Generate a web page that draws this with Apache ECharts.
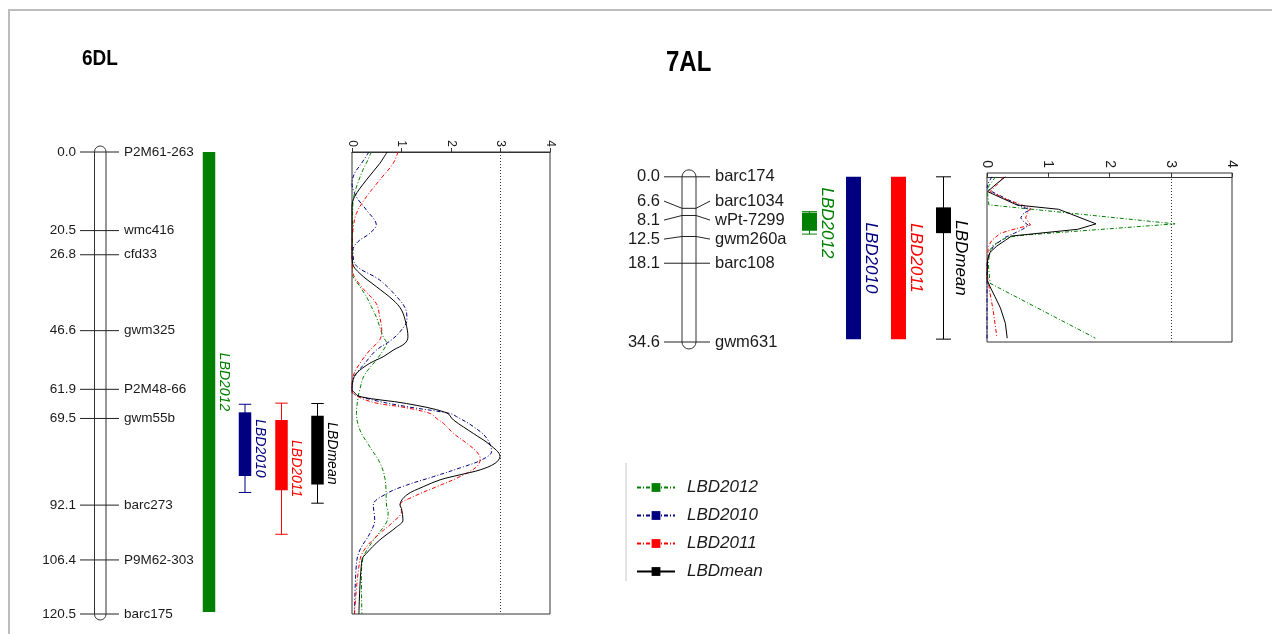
<!DOCTYPE html>
<html><head><meta charset="utf-8">
<script src="https://cdn.jsdelivr.net/npm/echarts@6/dist/echarts.min.js"></script>
<style>html,body{margin:0;padding:0;background:#fff}#c{width:1272px;height:634px}</style>
</head><body><div id="c"></div>
<script>
// ---------------- data ----------------
const chr6Markers = ['P2M61-263','wmc416','cfd33','gwm325','P2M48-66','gwm55b','barc273','P9M62-303','barc175'];
const chr6Pos = [0.0, 20.5, 26.8, 46.6, 61.9, 69.5, 92.1, 106.4, 120.5];
const chr7Markers = ['barc174','barc1034','wPt-7299','gwm260a','barc108','gwm631'];
const chr7Pos = [0.0, 6.6, 8.1, 12.5, 18.1, 34.6];

const traitNames = ['LBD2012','LBD2010','LBD2011','LBDmean'];
const traitColors = ['#008000','#000080','#ff0000','#000000'];

// QTL support intervals (cM): outer low, box low, box high, outer high
const qtl6Lo    = [0.0, 65.8, 65.5, 65.6];
const qtl6BoxLo = [0.0, 67.9, 69.9, 68.8];
const qtl6BoxHi = [120.0, 84.5, 88.2, 86.7];
const qtl6Hi    = [120.0, 88.8, 99.7, 91.6];
const qtl7Lo    = [7.3, 0.0, 0.0, 0.0];
const qtl7BoxLo = [7.5, 0.0, 0.0, 6.4];
const qtl7BoxHi = [11.3, 34.0, 34.0, 11.8];
const qtl7Hi    = [12.0, 34.0, 34.0, 34.0];

const lodTicks = [0, 1, 2, 3, 4];
const lodThreshold = 3;

// LOD profiles: [position cM, LOD]
const lod6_2012 = [[0,0.39],[2.1,0.32],[4.7,0.22],[7.3,0.14],[10.8,0.05],[13.4,0.02],[20,0.01],[31.7,0.01],[35.1,0.16],[37.7,0.29],[40.3,0.39],[43,0.49],[45.6,0.56],[48.2,0.63],[49.9,0.7],[51.7,0.63],[54.3,0.49],[56.9,0.32],[59,0.22],[61.9,0.16],[63.4,0.13],[68.2,0.09],[72.5,0.16],[76.9,0.36],[81.2,0.57],[85.5,0.67],[92.5,0.7],[93.8,0.73],[96.5,0.7],[99.1,0.56],[102.6,0.36],[106.1,0.22],[111.3,0.19],[120.5,0.2]];
const lod6_2010 = [[0,0.34],[3,0.19],[5.6,0.05],[8.2,0.0],[11.7,0.09],[15.1,0.29],[19.0,0.49],[21.2,0.36],[23.4,0.12],[25.6,0.02],[29,0.05],[33.4,0.56],[37.7,0.9],[41.2,1.09],[43.8,1.11],[46.4,1.0],[49,0.8],[51.7,0.49],[55.1,0.26],[58.6,0.05],[61.9,0.0],[63,0.02],[64.7,0.43],[66.4,1.1],[68.2,1.98],[69.0,2.11],[71.6,2.45],[74.6,2.72],[78.1,2.82],[80.3,2.62],[82.1,2.25],[84.7,1.64],[86.9,1.1],[89.1,0.7],[92.1,0.43],[96.0,0.46],[99.5,0.36],[103.8,0.16],[107.3,0.09],[120.5,0.05]];
const lod6_2011 = [[0,0.93],[3,0.83],[7.3,0.56],[11.7,0.29],[16,0.09],[20.3,0.02],[26,0.0],[31,0.01],[35.1,0.19],[39.5,0.49],[43,0.56],[46.4,0.6],[49,0.56],[51.7,0.36],[55.1,0.16],[58.6,0.02],[61.9,0.0],[63,0.02],[65.3,0.43],[66.6,1.05],[68.2,1.58],[69.5,1.71],[70.8,1.85],[73.4,2.05],[76.0,2.32],[78.2,2.52],[79.9,2.59],[82.1,2.52],[85.1,2.11],[87.3,1.71],[89.9,1.24],[92.1,0.97],[93.8,1.0],[96.5,0.83],[99.5,0.56],[103,0.29],[106.4,0.16],[120.5,0.05]];
const lod6_mean = [[0,0.71],[3,0.56],[7.3,0.29],[11.7,0.05],[14.3,0.0],[20,0.0],[26,0.0],[29,0.01],[31.7,0.16],[35.1,0.49],[38.6,0.83],[41.2,1.0],[44.7,1.09],[48.2,1.13],[49.9,1.07],[51.7,0.83],[53.4,0.63],[55.1,0.36],[57.7,0.09],[59.5,0.02],[61.9,0.0],[62.5,0.03],[63.8,0.16],[65.6,1.1],[68.0,1.91],[69.9,2.05],[73.4,2.45],[76.4,2.79],[79.4,2.99],[81.2,2.89],[82.9,2.59],[84.2,2.18],[85.5,1.78],[87.3,1.44],[89.5,1.1],[92.1,0.97],[93.0,1.0],[96.0,1.03],[97.8,0.9],[101.2,0.56],[104.7,0.29],[106.4,0.2],[120.5,0.14]];

const lod7_2012 = [[0,0.14],[1.9,0.03],[3.5,0.01],[5.87,0.03],[9.85,3.07],[12.2,0.62],[12.65,0.33],[14.3,0.1],[15.3,0.05],[18.1,0.02],[22.3,0.05],[33.8,1.77]];
const lod7_2010 = [[0,0.08],[1.3,0.02],[2.3,0.0],[3.1,0.08],[4.5,0.3],[5.5,0.45],[6.2,0.55],[6.9,0.71],[7.6,0.6],[8.6,0.55],[9.4,0.6],[10.2,0.68],[11.0,0.58],[11.8,0.45],[12.65,0.3],[13.8,0.18],[14.6,0.1],[16.7,0.02],[18.1,0.0],[34.0,0.0]];
const lod7_2011 = [[0,0.27],[1.3,0.19],[3.1,0.05],[4.8,0.33],[5.5,0.49],[6.6,0.71],[7.6,0.66],[8.6,0.63],[10.1,0.71],[10.8,0.49],[11.8,0.22],[13.3,0.08],[14.6,0.02],[20,0.0],[23.7,0.04],[27.9,0.1],[33.5,0.16]];
const lod7_mean = [[0,0.30],[1.5,0.15],[3.1,0.01],[5.9,0.49],[6.8,1.17],[9.85,1.78],[11.0,1.48],[12.4,0.4],[13.3,0.3],[14.5,0.16],[15.8,0.05],[17.3,0.01],[21.6,0.0],[23.3,0.06],[25.1,0.13],[27.5,0.22],[30.7,0.3],[33.8,0.33]];

// ---------------- rendering ----------------
const FONT = '"Liberation Sans", Arial, sans-serif';
const INK = '#1a1a1a';

function spread(ps, gap) {
  let cl = ps.map(p => ({ ps: [p], top: p }));
  let merged = true;
  while (merged) {
    merged = false;
    for (let i = 0; i < cl.length - 1; i++) {
      const a = cl[i], b = cl[i + 1];
      if (a.top + a.ps.length * gap > b.top + 1e-6) {
        const ps2 = a.ps.concat(b.ps);
        const top = ps2.reduce((s, p, k) => s + p - k * gap, 0) / ps2.length;
        cl.splice(i, 2, { ps: ps2, top });
        merged = true; break;
      }
    }
  }
  const out = [];
  cl.forEach(c => c.ps.forEach((p, k) => out.push(c.top + k * gap)));
  return out;
}

function chromRenderer(cfg) {
  return function (params, api) {
    const ys = cfg.pos.map(p => api.coord([0, p])[1]);
    const ly = spread(ys, cfg.gap);
    const ch = [];
    const top = ys[0] - cfg.cap, bot = ys[ys.length - 1] + cfg.cap;
    ch.push({ type: 'rect', shape: { x: cfg.x, y: top, width: cfg.w, height: bot - top, r: cfg.w / 2 },
      style: { fill: '#fff', stroke: '#333', lineWidth: 1 } });
    cfg.pos.forEach((p, i) => {
      const y = ys[i], yl = ly[i];
      ch.push({ type: 'polyline', shape: { points: [[cfg.tickL, yl], [cfg.x, y], [cfg.x + cfg.w, y], [cfg.tickR, yl]] },
        style: { stroke: '#222', lineWidth: 1, fill: null } });
      ch.push({ type: 'text', x: cfg.tickL - 4, y: yl, style: { text: p.toFixed(1), align: 'right', verticalAlign: 'middle',
        fontSize: cfg.fs, fontFamily: FONT, fill: INK } });
      ch.push({ type: 'text', x: cfg.tickR + 5, y: yl, style: { text: cfg.names[i], align: 'left', verticalAlign: 'middle',
        fontSize: cfg.fs, fontFamily: FONT, fill: INK } });
    });
    return { type: 'group', children: ch };
  };
}

function qtlRenderer(cfg) {
  return function (params, api) {
    const i = params.dataIndex;
    const cx = cfg.cx[i], w = cfg.w, col = traitColors[i];
    const yLo = api.coord([0, api.value(1)])[1];
    const yBL = api.coord([0, api.value(2)])[1];
    const yBH = api.coord([0, api.value(3)])[1];
    const yHi = api.coord([0, api.value(4)])[1];
    const ch = [];
    if ((yHi - yLo) - (yBH - yBL) > 1) {
      ch.push({ type: 'line', shape: { x1: cx, y1: yLo, x2: cx, y2: yHi }, style: { stroke: col, lineWidth: 1 } });
      ch.push({ type: 'line', shape: { x1: cx - w / 2, y1: yLo, x2: cx + w / 2, y2: yLo }, style: { stroke: col, lineWidth: 1 } });
      ch.push({ type: 'line', shape: { x1: cx - w / 2, y1: yHi, x2: cx + w / 2, y2: yHi }, style: { stroke: col, lineWidth: 1 } });
    }
    ch.push({ type: 'rect', shape: { x: cx - w / 2, y: yBL, width: w, height: yBH - yBL }, style: { fill: col } });
    ch.push({ type: 'text', x: cx + cfg.lab, y: (yLo + yHi) / 2, rotation: -Math.PI / 2,
      style: { text: traitNames[i], align: 'center', verticalAlign: 'middle', fontSize: cfg.fs, fontStyle: 'italic',
        fontFamily: FONT, fill: col } });
    return { type: 'group', children: ch };
  };
}

const dashDot = [4, 2, 1, 2];
function lodSeries(arr, idx, axis, smooth) {
  const col = traitColors[idx];
  return {
    type: 'line', name: traitNames[idx], xAxisIndex: axis, yAxisIndex: axis,
    data: arr.map(d => [d[1], d[0]]),
    symbol: 'rect', showSymbol: false, smooth: smooth, z: 3 + (idx === 3 ? 1 : 0),
    itemStyle: { color: col },
    lineStyle: { color: col, width: 1, type: idx === 3 ? 'solid' : dashDot },
    silent: true, animation: false,
    markLine: idx === 3 ? { silent: true, symbol: 'none', label: { show: false },
      lineStyle: { type: [1, 2], color: '#333', width: 1 }, data: [{ xAxis: lodThreshold }] } : undefined
  };
}

const grids = [
  { left: 20, top: 152, width: 320, height: 462 },
  { left: 352, top: 152, width: 198, height: 462, show: true, borderColor: '#333', borderWidth: 1 },
  { left: 600, top: 173, width: 380, height: 169 },
  { left: 987, top: 173, width: 245, height: 169, show: true, borderColor: '#333', borderWidth: 1 }
];

function hiddenX(g) { return { gridIndex: g, type: 'value', min: 0, max: 1, show: false }; }
function lodX(g, fs) {
  return { gridIndex: g, type: 'value', position: 'top', min: lodTicks[0], max: lodTicks[lodTicks.length - 1], interval: 1,
    axisLine: { show: true, lineStyle: { color: '#333', width: 1 } },
    axisTick: { show: true, inside: false, length: 4, lineStyle: { color: '#333' } },
    axisLabel: { rotate: -90, fontSize: fs, color: INK, margin: 5, fontFamily: FONT },
    splitLine: { show: false } };
}
function posY(g, min, max) {
  return { gridIndex: g, type: 'value', inverse: true, min: min, max: max,
    axisLine: { show: false }, axisTick: { show: false }, axisLabel: { show: false }, splitLine: { show: false } };
}

const option = {
  backgroundColor: '#fff',
  animation: false,
  grid: grids,
  xAxis: [hiddenX(0), lodX(1, 12), hiddenX(2), lodX(3, 14)],
  yAxis: [posY(0, 0, 120.5), posY(1, 0, 120.5), posY(2, -0.8, 34.6), posY(3, -0.8, 34.6)],
  legend: {
    orient: 'vertical', left: 636, top: 479, padding: 0, itemWidth: 38, itemHeight: 11, itemGap: 11,
    data: traitNames, selectedMode: false,
    textStyle: { fontStyle: 'italic', fontSize: 17, color: INK, fontFamily: FONT, padding: [0, 0, 0, 7] }
  },
  graphic: [
    { type: 'line', shape: { x1: 8, y1: 10, x2: 1272, y2: 10 }, style: { stroke: '#bdbdbd', lineWidth: 2 } },
    { type: 'line', shape: { x1: 9, y1: 10, x2: 9, y2: 634 }, style: { stroke: '#bdbdbd', lineWidth: 2 } },
    { type: 'line', shape: { x1: 626, y1: 463, x2: 626, y2: 581 }, style: { stroke: '#c8c8c8', lineWidth: 1 } },
    { type: 'text', x: 82, y: 59, scaleY: 1.2, style: { text: '6DL', fontSize: 19, fontWeight: 'bold', fontFamily: FONT, fill: '#000', verticalAlign: 'middle' } },
    { type: 'text', x: 666, y: 63, scaleY: 1.2, style: { text: '7AL', fontSize: 24, fontWeight: 'bold', fontFamily: FONT, fill: '#000', verticalAlign: 'middle' } }
  ],
  series: [
    { type: 'custom', xAxisIndex: 0, yAxisIndex: 0, clip: false, silent: true, data: [[0, 0]],
      renderItem: chromRenderer({ pos: chr6Pos, names: chr6Markers, x: 94.5, w: 11.5, cap: 6, tickL: 80, tickR: 119, fs: 13.5, gap: 16 }) },
    { type: 'custom', xAxisIndex: 0, yAxisIndex: 0, clip: false, silent: true,
      data: traitNames.map((n, i) => [i, qtl6Lo[i], qtl6BoxLo[i], qtl6BoxHi[i], qtl6Hi[i]]),
      renderItem: qtlRenderer({ cx: [209, 245, 281.5, 317.5], w: 12.5, lab: 14.5, fs: 14 }) },
    { type: 'custom', xAxisIndex: 2, yAxisIndex: 2, clip: false, silent: true, data: [[0, 0]],
      renderItem: chromRenderer({ pos: chr7Pos, names: chr7Markers, x: 682, w: 14, cap: 7, tickL: 664, tickR: 710, fs: 16.5, gap: 19 }) },
    { type: 'custom', xAxisIndex: 2, yAxisIndex: 2, clip: false, silent: true,
      data: traitNames.map((n, i) => [i, qtl7Lo[i], qtl7BoxLo[i], qtl7BoxHi[i], qtl7Hi[i]]),
      renderItem: qtlRenderer({ cx: [809.5, 853.5, 898.5, 943.5], w: 15, lab: 17.5, fs: 17 }) },
    lodSeries(lod6_2012, 0, 1, 0.35),
    lodSeries(lod6_2010, 1, 1, 0.35),
    lodSeries(lod6_2011, 2, 1, 0.35),
    lodSeries(lod6_mean, 3, 1, 0.35),
    lodSeries(lod7_2012, 0, 3, false),
    lodSeries(lod7_2010, 1, 3, false),
    lodSeries(lod7_2011, 2, 3, false),
    lodSeries(lod7_mean, 3, 3, false)
  ]
};

const chart = echarts.init(document.getElementById('c'));
chart.setOption(option);
</script>
</body></html>
